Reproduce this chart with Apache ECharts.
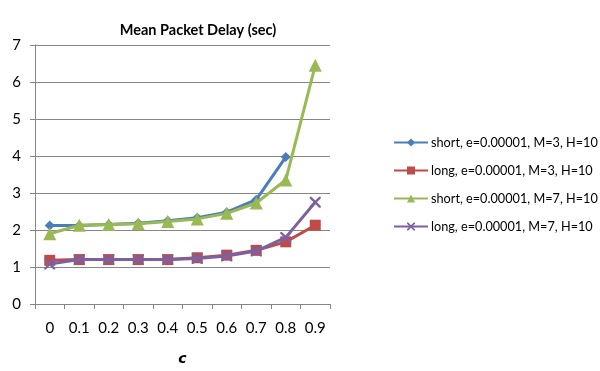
<!DOCTYPE html>
<html><head><meta charset="utf-8">
<script src="https://cdn.jsdelivr.net/npm/echarts@6/dist/echarts.min.js"></script>
<style>html,body{margin:0;padding:0;background:#fff}#c{width:600px;height:371px}</style>
</head><body><div id="c"></div>
<script>
const categories = ['0','0.1','0.2','0.3','0.4','0.5','0.6','0.7','0.8','0.9'];
const yTicks = [0,1,2,3,4,5,6,7];
const seriesNames = ['short, e=0.00001, M=3, H=10','long, e=0.00001, M=3, H=10','short, e=0.00001, M=7, H=10','long, e=0.00001, M=7, H=10'];
const shortM3 = [2.12, 2.12, 2.15, 2.18, 2.25, 2.33, 2.48, 2.82, 3.97, null];
const longM3  = [1.18, 1.2, 1.2, 1.2, 1.2, 1.25, 1.32, 1.45, 1.68, 2.13];
const shortM7 = [1.9, 2.13, 2.15, 2.17, 2.23, 2.3, 2.45, 2.73, 3.35, 6.45];
const longM7  = [1.08, 1.2, 1.2, 1.2, 1.2, 1.23, 1.3, 1.43, 1.8, 2.75];

const FONT = 'Lato, "Liberation Sans", sans-serif';
const colors = ['#4a7ebb','#be4b48','#98b954','#7d60a0'];
const xPath = 'path://M0,0 L3,0 L10,7 L17,0 L20,0 L20,3 L13,10 L20,17 L20,20 L17,20 L10,13 L3,20 L0,20 L0,17 L7,10 L0,3 Z';
const symbols = ['diamond','rect','triangle',xPath];
const sizes = [10,11,13,11];
const dataSets = [shortM3,longM3,shortM7,longM7];

const chart = echarts.init(document.getElementById('c'), null, {renderer:'canvas'});
chart.setOption({
  animation:false,
  backgroundColor:'#fff',
  color: colors,
  title:{text:'Mean Packet Delay (sec)', left:193, textAlign:'center', top:18,
    textStyle:{fontFamily:FONT, fontSize:14.5, fontWeight:'bold', color:'#000'}},
  grid:{left:35, right:270, top:45, bottom:63, containLabel:false},
  legend:{orient:'vertical', left:388, top:131, itemWidth:34, itemHeight:10, itemGap:15,
    textStyle:{fontFamily:FONT, fontSize:12.7, color:'#000', padding:[0,0,0,-2]},
    data: seriesNames},
  xAxis:{type:'category', data:categories, boundaryGap:true,
    name:'c', nameLocation:'middle', nameGap:48,
    nameTextStyle:{fontFamily:'"DejaVu Sans", sans-serif', fontSize:14, fontStyle:'italic', fontWeight:'bold', color:'#000'},
    axisLine:{lineStyle:{color:'#868686', width:1}},
    axisTick:{show:true, alignWithLabel:false, length:5, lineStyle:{color:'#868686'}},
    axisLabel:{fontFamily:FONT, fontSize:15, color:'#000', margin:17}},
  yAxis:{type:'value', min:0, max:7, interval:1,
    axisLine:{show:true, lineStyle:{color:'#868686', width:1}},
    axisTick:{show:true, length:5, lineStyle:{color:'#868686'}},
    axisLabel:{fontFamily:FONT, fontSize:15, color:'#000', margin:14,
      formatter: v => yTicks.includes(v) ? String(v) : ''},
    splitLine:{lineStyle:{color:'#868686', width:1}}},
  series: dataSets.map((d,i)=>({
    name: seriesNames[i], type:'line', data:d,
    symbol: symbols[i], symbolSize: sizes[i], showSymbol:true,
    lineStyle:{width:3, color:colors[i]},
    itemStyle:{color:colors[i], borderWidth: 0},
    connectNulls:false, z: i===3 ? 5 : (i===2 ? 4 : 3)
  }))
});
</script></body></html>
